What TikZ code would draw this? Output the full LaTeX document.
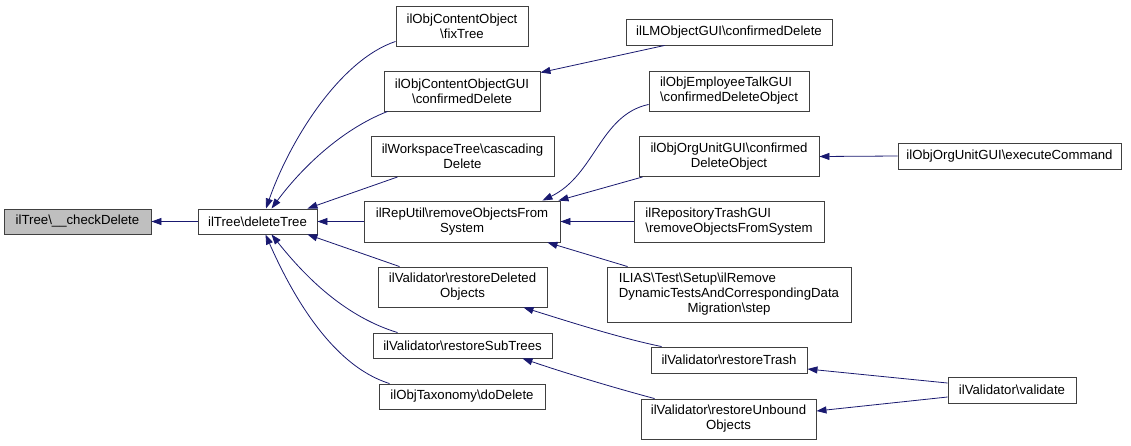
\documentclass[tikz,border=0pt]{standalone}
\usepackage{fontspec}
\setmainfont{Liberation Sans}
\usetikzlibrary{arrows.meta}
\definecolor{edgeblue}{HTML}{191970}
\definecolor{boxline}{HTML}{404040}
\definecolor{boxgray}{HTML}{BFBFBF}
\newcommand\bsl{\textbackslash}
\newcommand\fnt{\fontsize{13.2}{15}\selectfont}
\begin{document}
\begin{tikzpicture}[x=1pt,y=-1pt,
  fn/.style={draw=boxline, line width=0.9pt, fill=white, inner sep=0pt, align=center, font=\fnt},
  ce/.style={draw=edgeblue, line width=0.8pt, -{Triangle[length=10pt,width=7pt]}}]
\useasboundingbox[fill=white] (0,0) rectangle (1131,445);
% left
\node[fn, fill=boxgray, minimum width=147pt, minimum height=25pt] (cd) at (77.5,221.5) {ilTree\bsl\_\_checkDelete};
\node[fn, minimum width=119pt, minimum height=25pt] (dt) at (257.5,221.5) {ilTree\bsl deleteTree};
% middle column
\node[fn, minimum width=132pt, minimum height=40pt] (fix) at (462,26) {ilObjContentObject\\\bsl fixTree};
\node[fn, minimum width=156pt, minimum height=40pt] (cogui) at (462,91) {ilObjContentObjectGUI\\\bsl confirmedDelete};
\node[fn, minimum width=183pt, minimum height=40pt] (wt) at (462.5,156.5) {ilWorkspaceTree\bsl cascading\\Delete};
\node[fn, minimum width=196pt, minimum height=41pt] (ru) at (462,221.5) {ilRepUtil\bsl removeObjectsFrom\\System};
\node[fn, minimum width=169pt, minimum height=40pt] (rdo) at (462.5,287) {ilValidator\bsl restoreDeleted\\Objects};
\node[fn, minimum width=179pt, minimum height=25pt] (rst) at (462.5,345.5) {ilValidator\bsl restoreSubTrees};
\node[fn, minimum width=166pt, minimum height=25pt] (dd) at (462,396.5) {ilObjTaxonomy\bsl doDelete};
% right column
\node[fn, minimum width=206pt, minimum height=26pt] (lm) at (729,32) {ilLMObjectGUI\bsl confirmedDelete};
\node[fn, minimum width=160pt, minimum height=40pt] (et) at (729,91) {\rlap{ilObjEmployeeTalkGUI}\phantom{\bsl confirmedDeleteObject}\\\bsl confirmedDeleteObject};
\node[fn, minimum width=180pt, minimum height=40pt] (ouc) at (729,156.5) {ilObjOrgUnitGUI\bsl confirmed\\DeleteObject};
\node[fn, minimum width=190pt, minimum height=41pt] (rt) at (729,221.5) {\rlap{ilRepositoryTrashGUI}\phantom{\bsl removeObjectsFromSystem}\\\bsl removeObjectsFromSystem};
\node[fn, minimum width=244pt, minimum height=55pt] (ilias) at (729,294.5) {\rlap{ILIAS\bsl Test\bsl Setup\bsl ilRemove}\phantom{DynamicTestsAndCorrespondingData}\\DynamicTestsAndCorrespondingData\\Migration\bsl step};
\node[fn, minimum width=156pt, minimum height=26pt] (rtrash) at (729,360) {ilValidator\bsl restoreTrash};
\node[fn, minimum width=175pt, minimum height=40pt] (runb) at (728.5,419) {ilValidator\bsl restoreUnbound\\Objects};
% far right
\node[fn, minimum width=223pt, minimum height=26pt] (ec) at (1009.5,156) {ilObjOrgUnitGUI\bsl executeCommand};
\node[fn, minimum width=128pt, minimum height=26pt] (val) at (1012,390) {ilValidator\bsl validate};
% edges
\draw[ce] (dt.west) -- (cd.east);
\draw[ce] ([yshift=5pt]fix.south west) .. controls (340,60) and (290,140) .. ([xshift=8.5pt]dt.north);
\draw[ce] ([xshift=4pt]cogui.south west) .. controls (340,130) and (300,170) .. ([xshift=14pt]dt.north);
\draw[ce] ([xshift=27pt]wt.south west) -- ([xshift=-10pt]dt.north east);
\draw[ce] (ru.west) -- (dt.east);
\draw[ce] ([xshift=22pt]rdo.north west) -- ([xshift=-10pt]dt.south east);
\draw[ce] ([xshift=25pt]rst.north west) .. controls (340,315) and (300,270) .. ([xshift=14pt]dt.south);
\draw[ce] ([xshift=11pt]dd.north west) .. controls (330,365) and (290,290) .. ([xshift=8pt]dt.south);
\draw[ce] ([xshift=39pt]lm.south west) -- ([yshift=-2pt]cogui.north east);
\draw[ce] ([yshift=7pt]et.south west) .. controls (600,115) and (595,175) .. ([xshift=-18pt]ru.north east);
\draw[ce] ([xshift=4pt]ouc.south west) -- ([xshift=-2pt]ru.north east);
\draw[ce] (rt.west) -- (ru.east);
\draw[ce] ([xshift=21pt]ilias.north west) -- ([xshift=-13pt]ru.south east);
\draw[ce] (ec.west) -- (ouc.east);
\draw[ce] ([xshift=11pt]rtrash.north west) .. controls (620,338) and (570,322) .. ([xshift=-24pt]rdo.south east);
\draw[ce] ([xshift=14pt]runb.north west) .. controls (615,388) and (565,373) .. ([xshift=-30pt]rst.south east);
\draw[ce] ([yshift=7pt]val.west) -- ([yshift=-9pt]rtrash.east);
\draw[ce] ([yshift=-7pt]val.west) -- ([yshift=8pt]runb.east);
\end{tikzpicture}
\end{document}
